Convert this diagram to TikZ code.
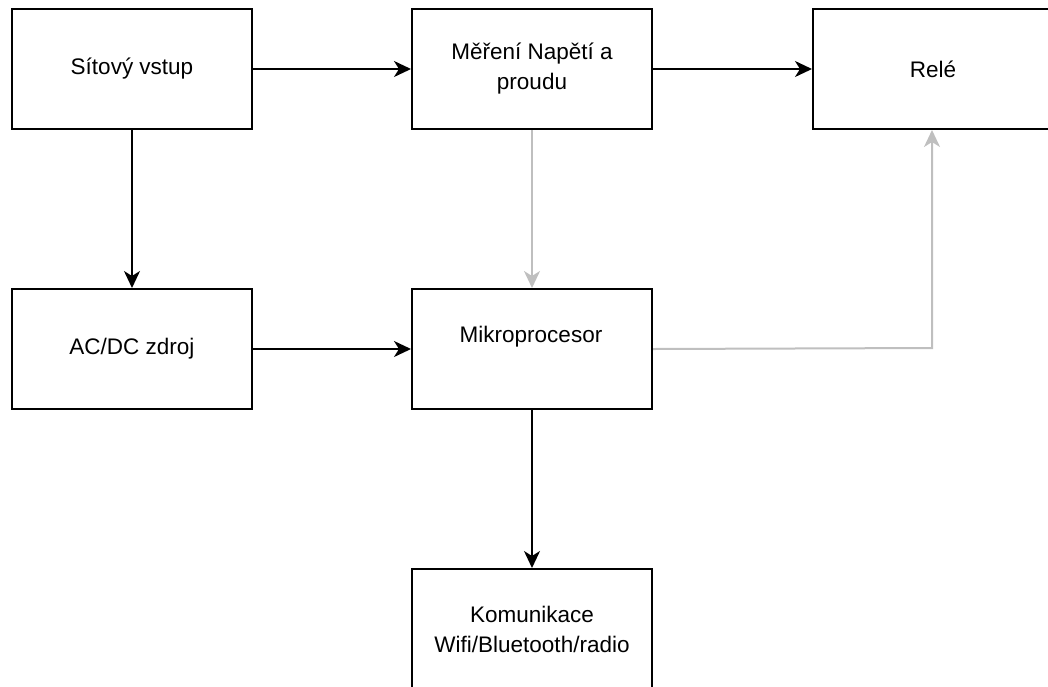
\documentclass[tikz,border=0pt]{standalone}
\usepackage{fontspec}
\setmainfont{Liberation Sans}
\usetikzlibrary{arrows.meta}
\definecolor{lgray}{HTML}{BFBFBF}
\tikzset{
  blk/.style={draw=black, line width=2pt, minimum width=240pt, minimum height=120pt,
    inner sep=0pt, align=center, font=\fontsize{22.5}{30}\selectfont, anchor=north west},
  conn/.style={line width=2pt, -{Stealth[length=17pt,width=16pt,inset=5pt]}},
  gconn/.style={conn, draw=lgray, color=lgray}
}
\begin{document}
\begin{tikzpicture}[x=1pt,y=-1pt]
\useasboundingbox (0,0) rectangle (1048,686);
\node[blk] (sit) at (11,8) {Sítový vstup};
\node[blk] (mer) at (411,8) {Měření Napětí a\\proudu};
\node[blk] (rel) at (812,8) {Relé};
\node[blk] (acdc) at (11,288) {AC/DC zdroj};
\node[blk] (mik) at (411,288) {};
\node[font=\fontsize{22.5}{30}\selectfont] (miktxt) at (531,337) {Mikroprocesor};
\node[blk] (kom) at (411,568) {Komunikace\\Wifi/Bluetooth/radio};
\coordinate (bend) at (932,348);
\draw[conn] (sit.east) -- (mer.west);
\draw[conn] (mer.east) -- (rel.west);
\draw[conn] (sit.south) -- (acdc.north);
\draw[conn] (acdc.east) -- (mik.west);
\draw[gconn] (mer.south) -- (mik.north);
\draw[gconn] (mik.east) -- (bend) -- (bend |- rel.south);
\draw[conn] (mik.south) -- (kom.north);
\end{tikzpicture}
\end{document}
